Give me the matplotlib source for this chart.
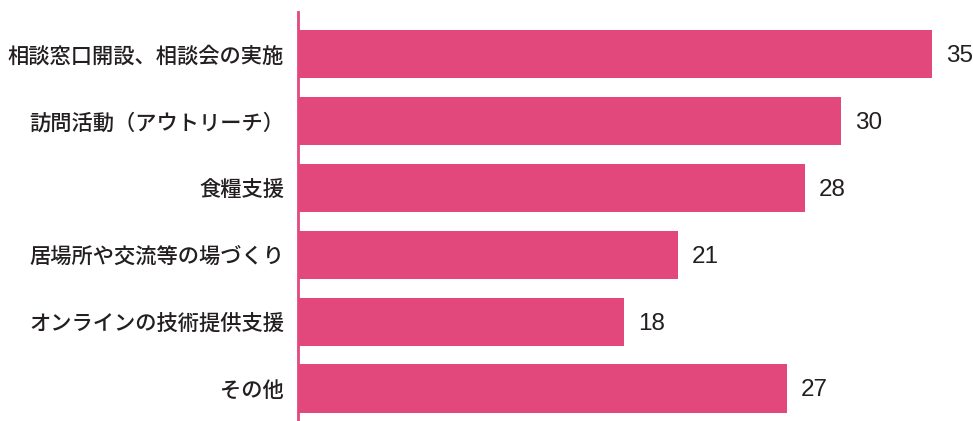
import numpy as np
import matplotlib.pyplot as plt

plt.rcParams['font.family'] = ['Noto Sans CJK JP', 'DejaVu Sans']

labels = ["相談窓口開設、相談会の実施", "訪問活動（アウトリーチ）", "食糧支援",
          "居場所や交流等の場づくり", "オンラインの技術提供支援", "その他"]
values = [35, 30, 28, 21, 18, 27]

bar_color = "#e3487c"
text_color = "#231f20"

fig = plt.figure(figsize=(9.73, 4.21), dpi=100)
ax = fig.add_axes([298/973, 0, 675/973, 409/421])

y = np.arange(len(labels))
ax.barh(y, values, height=0.72, color=bar_color, edgecolor="none")

for yi, v in zip(y, values):
    ax.text(v + 0.75, yi + 0.03, str(v), va="center", ha="left", fontsize=17.5,
            color=text_color, family=["Liberation Sans", "DejaVu Sans"])

ax.set_yticks(y)
ax.set_yticklabels(labels, fontsize=15.3, color=text_color, fontweight="medium")
ax.tick_params(axis="y", length=0, pad=10)
ax.set_xticks([])
ax.set_xlim(0, 675/18.114)
ax.set_ylim(5.486, -0.628)

for s in ["top", "right", "bottom"]:
    ax.spines[s].set_visible(False)
ax.spines["left"].set_color(bar_color)
ax.spines["left"].set_linewidth(2)

fig.savefig("out.png", dpi=100)
